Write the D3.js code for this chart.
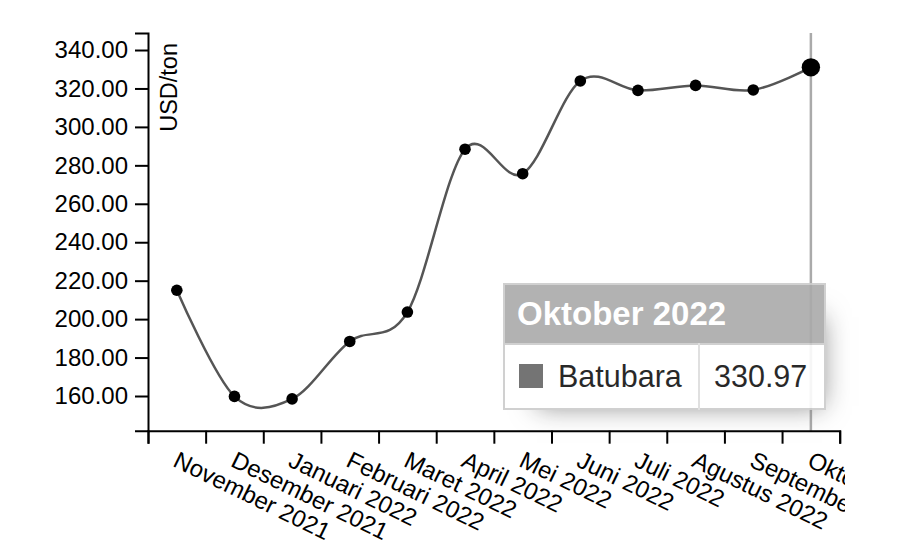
<!DOCTYPE html>
<html>
<head>
<meta charset="utf-8">
<script src="https://cdn.jsdelivr.net/npm/d3@7"></script>
<style>
  body { margin: 0; background: #fff; }
  #chart { position: relative; width: 923px; height: 551px; }
  svg { font-family: "Liberation Sans", Arial, sans-serif; }
  .tip {
    position: absolute; left: 503px; top: 283px;
    width: 321px; table-layout: fixed;
    border-collapse: collapse; border-spacing: 0;
    background: #fff; opacity: 0.9;
    box-shadow: 15px 15px 25px -19px #777;
    font-family: "Liberation Sans", Arial, sans-serif;
  }
  .tip tr { border: 2px solid #ccc; }
  .tip th {
    background: #aaa; color: #fff; text-align: left;
    font-size: 33px; font-weight: bold;
    height: 60px; padding: 0 12px; box-sizing: border-box;
  }
  .tip td {
    font-size: 30.5px; background: #fff; height: 65px;
    padding: 0 14px; color: #111; box-sizing: border-box;
    white-space: nowrap;
  }
  .tip td.value { text-align: right; border-left: 2px solid #ddd; padding-right: 18px; }
  .tip td.name span {
    display: inline-block; width: 24px; height: 24px; background: #666;
    margin-right: 15px; vertical-align: -1px;
  }
</style>
</head>
<body>
<div id="chart"></div>
<script>
// harga batubara acuan, USD/ton
var months = ["November 2021", "Desember 2021", "Januari 2022", "Februari 2022",
              "Maret 2022", "April 2022", "Mei 2022", "Juni 2022", "Juli 2022",
              "Agustus 2022", "September 2022", "Oktober 2022"];
var values = [215.01, 159.79, 158.50, 188.38, 203.69, 288.40, 275.64, 323.91,
              319.00, 321.59, 319.22, 330.97];
var yTicks = [160, 180, 200, 220, 240, 260, 280, 300, 320, 340];
var seriesName = "Batubara";
var focusIndex = 11;

var plotLeft = 148, plotRight = 839.7, plotTop = 33, plotBottom = 430.7;

var svg = d3.select("#chart")
  .append("svg")
  .attr("width", 845)
  .attr("height", 551);

var x = d3.scaleBand()
  .domain(months)
  .range([plotLeft, plotRight])
  .paddingInner(0).paddingOuter(0);

var xEdges = d3.scaleLinear()
  .domain([0, months.length])
  .range([plotLeft, plotRight]);

var y = d3.scaleLinear()
  .domain([141.95, 348.85])
  .range([plotBottom, plotTop]);

function cx(i) { return x(months[i]) + x.bandwidth() / 2; }

// focus grid line
svg.append("line")
  .attr("x1", cx(focusIndex)).attr("x2", cx(focusIndex))
  .attr("y1", plotTop).attr("y2", plotBottom)
  .attr("stroke", "#aaa")
  .attr("stroke-width", 2.5);

// x axis: tick lines on band edges
svg.append("g")
  .attr("transform", "translate(0," + plotBottom + ")")
  .call(d3.axisBottom(xEdges)
    .tickValues(d3.range(months.length + 1))
    .tickFormat("")
    .tickSize(13));

svg.append("g")
  .selectAll("text")
  .data(months)
  .join("text")
  .attr("transform", function(d, i) {
    return "translate(" + (cx(i) - 5) + "," + (plotBottom + 35) + ") rotate(26)";
  })
  .attr("text-anchor", "start")
  .style("font-size", "24px")
  .text(function(d) { return d; });

// y axis
var yAxis = svg.append("g")
  .attr("transform", "translate(" + plotLeft + ",0)")
  .call(d3.axisLeft(y)
    .tickValues(yTicks)
    .tickFormat(d3.format(".2f"))
    .tickSize(13)
    .tickPadding(7));

yAxis.selectAll("text").style("font-size", "24px").attr("fill", "#000");

svg.selectAll(".domain, .tick line")
  .attr("stroke", "#000")
  .attr("stroke-width", 2);

svg.append("text")
  .attr("transform", "rotate(-90)")
  .attr("x", -43)
  .attr("y", 177)
  .attr("text-anchor", "end")
  .style("font-size", "23.5px")
  .text("USD/ton");

// line
var line = d3.line()
  .x(function(d, i) { return cx(i); })
  .y(function(d) { return y(d); })
  .curve(d3.curveCardinal);

svg.append("path")
  .datum(values)
  .attr("d", line)
  .attr("fill", "none")
  .attr("stroke", "#555")
  .attr("stroke-width", 2.5);

svg.selectAll(".dot")
  .data(values)
  .join("circle")
  .attr("class", "dot")
  .attr("cx", function(d, i) { return cx(i); })
  .attr("cy", function(d) { return y(d); })
  .attr("r", function(d, i) { return i === focusIndex ? 9.2 : 5.8; })
  .attr("fill", "#000");

// tooltip
var tip = d3.select("#chart").append("table").attr("class", "tip");
var cols = tip.append("colgroup");
cols.append("col").style("width", "195px");
cols.append("col").style("width", "126px");
tip.append("tr").append("th").attr("colspan", 2).text(months[focusIndex]);
var row = tip.append("tr");
var nameCell = row.append("td").attr("class", "name");
nameCell.append("span");
nameCell.append("text").text(seriesName);
row.append("td").attr("class", "value").text(d3.format(".2f")(values[focusIndex]));
</script>
</body>
</html>
